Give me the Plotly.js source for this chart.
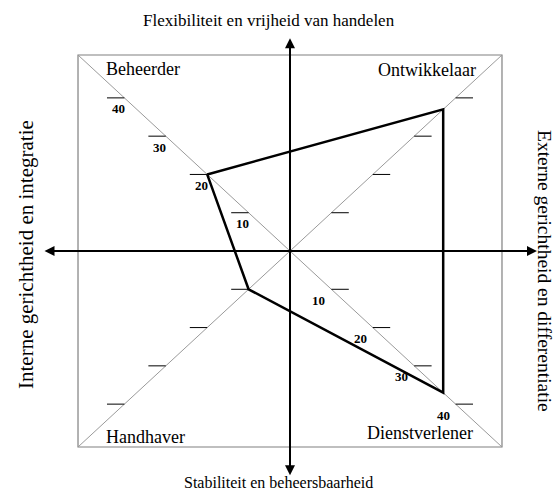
<!DOCTYPE html>
<html>
<head>
<meta charset="utf-8">
<script src="https://cdn.plot.ly/plotly-3.0.1.min.js"></script>
<style>html,body{margin:0;padding:0;background:#fff;}#chart{width:559px;height:490px;}</style>
</head>
<body>
<div id="chart"></div>
<script>
// ---- data ----
const quadrants = ['Beheerder', 'Ontwikkelaar', 'Dienstverlener', 'Handhaver'];
const scores = [20, 37, 37, 10];
const tickValues = [10, 20, 30, 40];
const tickLabels = ['10', '20', '30', '40'];
const labelledQuadrants = ['Beheerder', 'Dienstverlener'];
const axisTitles = [
  'Flexibiliteit en vrijheid van handelen',
  'Stabiliteit en beheersbaarheid',
  'Interne gerichtheid en integratie',
  'Externe gerichtheid en differentiatie'
];

// ---- geometry (layout only) ----
const dirX = {Beheerder: -1, Ontwikkelaar: 1, Dienstverlener: 1, Handhaver: -1};
const dirY = {Beheerder: 1, Ontwikkelaar: 1, Dienstverlener: -1, Handhaver: -1};
const E = 51.2;          // frame corner on diagonal scale
const TICK = 4.2;        // tick length in x units
const FONT = 'Liberation Serif, Times New Roman, serif';

// polygon
const px = [], py = [];
quadrants.forEach((q, i) => { px.push(scores[i] * dirX[q]); py.push(scores[i] * dirY[q]); });
px.push(px[0]); py.push(py[0]);

// tick marks
const tx = [], ty = [];
quadrants.forEach(q => {
  tickValues.forEach(v => {
    tx.push(v * dirX[q], v * dirX[q] + TICK * dirX[q], null);
    ty.push(v * dirY[q], v * dirY[q], null);
  });
});

const traces = [
  {x: tx, y: ty, mode: 'lines', line: {color: '#000', width: 1}, hoverinfo: 'skip', type: 'scatter'},
  {x: px, y: py, mode: 'lines', line: {color: '#000', width: 2.5}, hoverinfo: 'skip', type: 'scatter'}
];

const shapes = [
  {type: 'rect', xref: 'x', yref: 'y', x0: -E, x1: E, y0: -E, y1: E, line: {color: '#808080', width: 1.2}, layer: 'below'},
  {type: 'line', xref: 'x', yref: 'y', x0: -E, y0: E, x1: E, y1: -E, line: {color: '#9a9a9a', width: 1}, layer: 'below'},
  {type: 'line', xref: 'x', yref: 'y', x0: -E, y0: -E, x1: E, y1: E, line: {color: '#9a9a9a', width: 1}, layer: 'below'}
];

const annotations = [];
// axes with arrows
annotations.push({x: 59.65, y: 0, ax: -59.65, ay: 0, xref: 'x', yref: 'y', axref: 'x', ayref: 'y',
  text: '', showarrow: true, arrowside: 'end+start', arrowhead: 2, arrowsize: 1, arrowwidth: 2, arrowcolor: '#000', standoff: 0, startstandoff: 0});
annotations.push({x: 0, y: 55.6, ax: 0, ay: -59.0, xref: 'x', yref: 'y', axref: 'x', ayref: 'y',
  text: '', showarrow: true, arrowside: 'end+start', arrowhead: 2, arrowsize: 1, arrowwidth: 2, arrowcolor: '#000', standoff: 0, startstandoff: 0});

// tick labels
const labelShift = {Beheerder: [-6, -11], Dienstverlener: [-12.5, -11]};
labelledQuadrants.forEach(q => {
  tickValues.forEach((v, k) => {
    annotations.push({x: v * dirX[q], y: v * dirY[q], xref: 'x', yref: 'y', text: '<b>' + tickLabels[k] + '</b>',
      showarrow: false, xshift: labelShift[q][0], yshift: labelShift[q][1], xanchor: 'center', yanchor: 'middle',
      font: {family: FONT, size: 13, color: '#000'}});
  });
});

// corner labels
const cornerPos = {Beheerder: [-35.5, 47.5], Ontwikkelaar: [33.2, 47.3], Dienstverlener: [31.4, -47.5], Handhaver: [-35.0, -48.6]};
quadrants.forEach(q => {
  annotations.push({x: cornerPos[q][0], y: cornerPos[q][1], xref: 'x', yref: 'y', text: q, showarrow: false,
    xanchor: 'center', yanchor: 'middle',
    font: {family: FONT, size: 18, color: '#000'}});
});

// axis titles
const titleBase = {xref: 'paper', yref: 'paper', showarrow: false, xanchor: 'center', yanchor: 'middle'};
annotations.push(Object.assign({}, titleBase, {x: 269 / 559, y: 1 - 21 / 490, text: axisTitles[0],
  font: {family: FONT, size: 17, color: '#000'}}));
annotations.push(Object.assign({}, titleBase, {x: 278 / 559, y: 1 - 482 / 490, text: axisTitles[1],
  font: {family: FONT, size: 16, color: '#000'}}));
annotations.push(Object.assign({}, titleBase, {x: 26 / 559, y: 1 - 255 / 490, text: axisTitles[2], textangle: -90,
  font: {family: FONT, size: 21, color: '#000'}}));
annotations.push(Object.assign({}, titleBase, {x: 545 / 559, y: 1 - 271 / 490, text: axisTitles[3], textangle: 90,
  font: {family: FONT, size: 19.5, color: '#000'}}));

const layout = {
  width: 559, height: 490,
  margin: {l: 0, r: 0, t: 0, b: 0, pad: 0},
  paper_bgcolor: '#fff', plot_bgcolor: '#fff',
  showlegend: false,
  xaxis: {range: [-70.04, 64.97], visible: false, fixedrange: true},
  yaxis: {range: [-62.43, 65.57], visible: false, fixedrange: true},
  shapes: shapes,
  annotations: annotations
};

Plotly.newPlot('chart', traces, layout, {staticPlot: true, displayModeBar: false});
</script>
</body>
</html>
